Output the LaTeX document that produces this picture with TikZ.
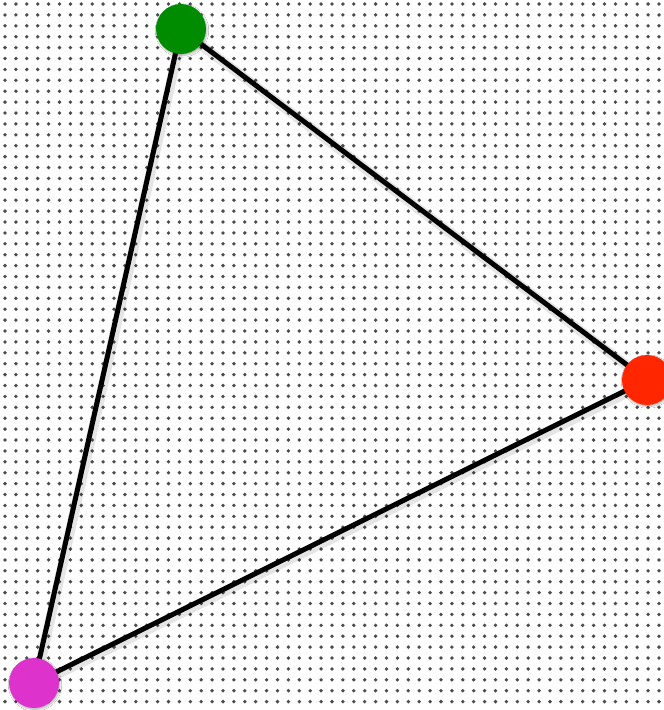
\documentclass[tikz,border=0pt]{standalone}
\usetikzlibrary{shadows.blur}
\definecolor{ngreen}{HTML}{008C00}
\definecolor{nred}{HTML}{FF2600}
\definecolor{nmag}{HTML}{DD33CC}
\tikzset{
  vert/.style={circle, minimum size=50pt, inner sep=0pt, draw=none},
  edge/.style={line width=5pt, black},
  edgeshadow/.style={line width=10pt, black, opacity=0.10},
  dotmark/.style={fill=black!70},
  vshadow/.style={blur shadow={shadow blur steps=6, shadow xshift=1pt, shadow yshift=-1.5pt, shadow opacity=30}},
}
\begin{document}
\begin{tikzpicture}[x=1pt,y=-1pt]
\useasboundingbox (0,0) rectangle (664,710);
\fill[white] (0,0) rectangle (664,710);
\foreach \i in {0,...,61}{
  \foreach \j in {0,...,65}{
    \fill[dotmark] (5+10.9*\i, 4+10.9*\j) circle (1.9);
  }
}
\coordinate (g) at (181,29);
\coordinate (r) at (647,380);
\coordinate (m) at (34,683);
\draw[edgeshadow] ([shift={(1.5,2)}]g) -- ([shift={(1.5,2)}]r) -- ([shift={(1.5,2)}]m) -- cycle;
\draw[edge] (g) -- (r);
\draw[edge] (r) -- (m);
\draw[edge] (m) -- (g);
\node[vert, fill=ngreen, vshadow] (G) at (g) {};
\node[vert, fill=nred, vshadow] (R) at (r) {};
\node[vert, fill=nmag, vshadow] (M) at (m) {};
\end{tikzpicture}
\end{document}
